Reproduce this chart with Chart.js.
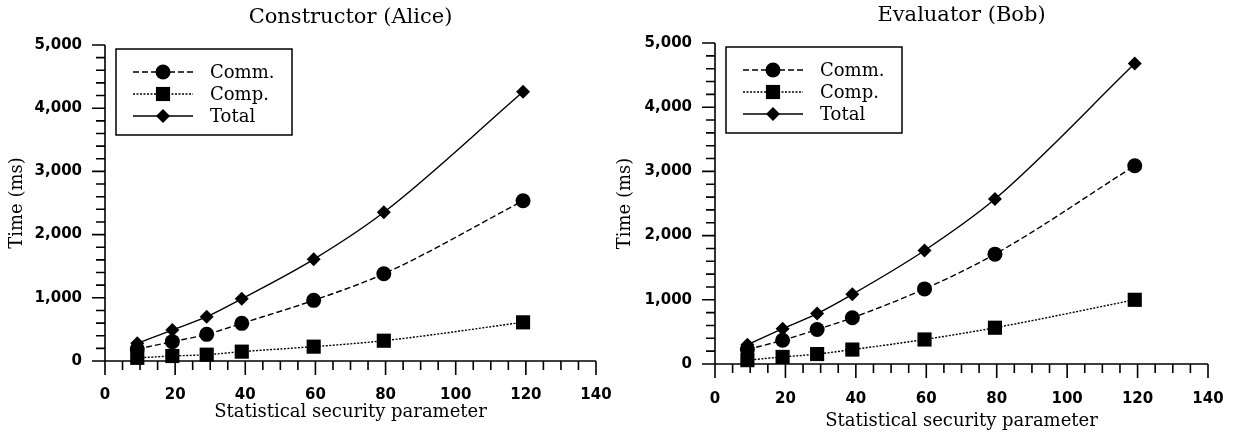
<!DOCTYPE html>
<html>
<head>
<meta charset="utf-8">
<script src="https://cdn.jsdelivr.net/npm/chart.js@4.4.1/dist/chart.umd.min.js"></script>
<style>
  html, body { margin: 0; padding: 0; background: #fff; }
  #wrap { position: relative; width: 1236px; height: 438px; overflow: hidden; }
  .panel { position: absolute; top: 0; height: 438px; }
  .panel canvas { display: block; }
</style>
</head>
<body>
<div id="wrap">
  <div class="panel" style="left:0;width:618px;"><canvas id="alice"></canvas></div>
  <div class="panel" style="left:606px;width:630px;"><canvas id="bob"></canvas></div>
</div>
<script>
// ---------------- data ----------------
const securityParams = [9.2, 19.2, 29, 39, 59.5, 79.5, 119.2];
const aliceComm  = [190, 306, 422, 596, 960, 1380, 2535];
const aliceComp  = [50, 79, 100, 148, 227, 321, 612];
const aliceTotal = [280, 490, 701, 985, 1609, 2353, 4261];
const bobComm    = [225, 370, 538, 720, 1170, 1711, 3089];
const bobComp    = [60, 110, 155, 225, 382, 565, 1000];
const bobTotal   = [300, 550, 785, 1085, 1768, 2569, 4680];
const seriesNames = ['Comm.', 'Comp.', 'Total'];
const panelTitles = ['Constructor (Alice)', 'Evaluator (Bob)'];
const xAxisTitle = 'Statistical security parameter';
const yAxisTitle = 'Time (ms)';
const xTickValues = [0, 20, 40, 60, 80, 100, 120, 140];
const yTickValues = [0, 1000, 2000, 3000, 4000, 5000];

const SERIF = '"DejaVu Serif", "Liberation Serif", serif';
const SANS = '"DejaVu Sans", "Liberation Sans", sans-serif';

// ---------------- plugins ----------------
const axisTicks = {
  id: 'axisTicks',
  beforeDatasetsDraw(chart, args, o) {
    const { ctx, chartArea: { left, right, top, bottom }, scales: { x, y } } = chart;
    ctx.save();
    ctx.strokeStyle = '#000';
    ctx.lineWidth = o.lineWidth;
    ctx.lineCap = 'butt';
    ctx.beginPath();
    ctx.moveTo(left, top);
    ctx.lineTo(left, bottom);
    ctx.moveTo(left, bottom);
    ctx.lineTo(right, bottom);
    for (let v = x.min; v <= x.max + 1e-9; v += o.xMinor) {
      const px = x.getPixelForValue(v);
      const len = xTickValues.includes(v) ? o.xMajorLen : o.xMinorLen;
      ctx.moveTo(px, bottom);
      ctx.lineTo(px, bottom + len);
    }
    for (let v = y.min; v <= y.max + 1e-9; v += o.yMinor) {
      const py = y.getPixelForValue(v);
      const len = yTickValues.includes(v) ? o.yMajorLen : o.yMinorLen;
      ctx.moveTo(left, py);
      ctx.lineTo(left - len, py);
    }
    ctx.stroke();
    ctx.restore();
  }
};

const panelTitle = {
  id: 'panelTitle',
  afterDraw(chart, args, o) {
    const { ctx, chartArea: { left, right } } = chart;
    ctx.save();
    ctx.fillStyle = '#000';
    ctx.font = o.font;
    ctx.textAlign = 'center';
    ctx.textBaseline = 'alphabetic';
    ctx.fillText(o.text, (left + right) / 2 + o.dx, o.baseline);
    ctx.restore();
  }
};

const boxLegend = {
  id: 'boxLegend',
  afterDraw(chart, args, o) {
    const { ctx, chartArea: { left, top } } = chart;
    const bx = left + o.dx, by = top + o.dy;
    ctx.save();
    ctx.strokeStyle = '#000';
    ctx.lineWidth = o.boxLineWidth;
    ctx.strokeRect(bx, by, o.width, o.height);
    chart.data.datasets.forEach((ds, i) => {
      const cy = by + o.firstRow + i * o.rowGap;
      ctx.save();
      ctx.lineWidth = ds.borderWidth;
      ctx.setLineDash(ds.borderDash || []);
      ctx.beginPath();
      ctx.moveTo(bx + o.lineStart, cy);
      ctx.lineTo(bx + o.lineEnd, cy);
      ctx.stroke();
      ctx.restore();
      ctx.fillStyle = '#000';
      Chart.helpers.drawPoint(ctx, {
        pointStyle: ds.pointStyle, radius: ds.pointRadius, borderWidth: 0, rotation: 0
      }, bx + (o.lineStart + o.lineEnd) / 2, cy);
      ctx.fillStyle = '#000';
      ctx.font = o.font;
      ctx.textAlign = 'left';
      ctx.textBaseline = 'middle';
      ctx.fillText(ds.label, bx + o.textX, cy + 1);
    });
    ctx.restore();
  }
};

function makeDatasets(comm, comp, total) {
  const base = {
    borderColor: '#000', backgroundColor: '#000', pointBackgroundColor: '#000',
    pointBorderColor: '#000', pointBorderWidth: 0, borderWidth: 1.4,
    cubicInterpolationMode: 'monotone', clip: false, pointHoverRadius: 0
  };
  const pts = vals => securityParams.map((p, i) => ({ x: p, y: vals[i] }));
  return [
    Object.assign({}, base, { label: seriesNames[0], data: pts(comm), borderDash: [6, 3], pointStyle: 'circle', pointRadius: 7.5 }),
    Object.assign({}, base, { label: seriesNames[1], data: pts(comp), borderDash: [2, 1.5], pointStyle: 'rect', pointRadius: 10 }),
    Object.assign({}, base, { label: seriesNames[2], data: pts(total), borderDash: [], pointStyle: 'rectRot', pointRadius: 7 })
  ];
}

function makeChart(id, cfg) {
  const el = document.getElementById(id);
  el.width = cfg.w; el.height = 438;
  el.style.width = cfg.w + 'px'; el.style.height = '438px';
  const ch = new Chart(el, {
    type: 'line',
    data: { datasets: makeDatasets(cfg.comm, cfg.comp, cfg.total) },
    plugins: [axisTicks, panelTitle, boxLegend],
    options: {
      responsive: false,
      animation: false,
      events: [],
      layout: { padding: { left: 0, top: cfg.top, right: cfg.w - cfg.right, bottom: 0 } },
      plugins: {
        legend: { display: false },
        tooltip: { enabled: false },
        title: { display: false },
        axisTicks: { lineWidth: 1.6, xMinor: 5, yMinor: 200, xMajorLen: 14, xMinorLen: 9, yMajorLen: 13, yMinorLen: 9 },
        panelTitle: { text: cfg.title, font: '21px ' + SERIF, dx: 0, baseline: cfg.titleBaseline },
        boxLegend: {
          dx: 11, dy: 4, width: 176, height: 86, boxLineWidth: 1.5,
          firstRow: 23, rowGap: 22, lineStart: 17, lineEnd: 77, textX: 94,
          font: '18px ' + SERIF
        }
      },
      scales: {
        x: {
          type: 'linear', min: 0, max: 140,
          afterFit: s => { s.height = 438 - cfg.bottom; },
          grid: { display: false, drawTicks: true, tickLength: cfg.xTickPad },
          border: { display: false },
          ticks: {
            stepSize: 20, autoSkip: false, padding: 0, color: '#000',
            font: { family: SANS, size: 15, weight: 'bold' },
            callback: v => v.toString()
          },
          title: {
            display: true, text: xAxisTitle, color: '#000',
            font: { family: SERIF, size: 18 }, padding: { top: 0, bottom: cfg.xTitlePad }
          }
        },
        y: {
          type: 'linear', min: 0, max: 5000,
          afterFit: s => { s.width = cfg.left; },
          grid: { display: false, drawTicks: true, tickLength: 23 },
          border: { display: false },
          ticks: {
            stepSize: 1000, autoSkip: false, padding: 0, color: '#000',
            font: { family: SANS, size: 15, weight: 'bold' },
            callback: v => v.toLocaleString('en-US')
          },
          title: {
            display: true, text: yAxisTitle, color: '#000',
            font: { family: SERIF, size: 18 }, padding: { top: cfg.yTitlePad, bottom: 0 }
          }
        }
      }
    }
  });
  // nudge the plot area so it lands where the reference has it
  const pad = ch.config.options.layout.padding;
  for (let k = 0; k < 3; k++) {
    const ca = ch.chartArea;
    const dr = ca.right - cfg.right, dt = cfg.top - ca.top;
    if (Math.abs(dr) < 0.5 && Math.abs(dt) < 0.5) break;
    pad.right += dr;
    pad.top += dt;
    ch.update();
  }
  return ch;
}

makeChart('alice', {
  w: 618, left: 105, right: 596, top: 45, bottom: 361,
  comm: aliceComm, comp: aliceComp, total: aliceTotal, title: panelTitles[0],
  titleBaseline: 23, xTickPad: 25, xTitlePad: 15, yTitlePad: 7
});
makeChart('bob', {
  w: 630, left: 109, right: 602, top: 43, bottom: 364,
  comm: bobComm, comp: bobComp, total: bobTotal, title: panelTitles[1],
  titleBaseline: 21, xTickPad: 26, xTitlePad: 6, yTitlePad: 9
});
</script>
</body>
</html>
